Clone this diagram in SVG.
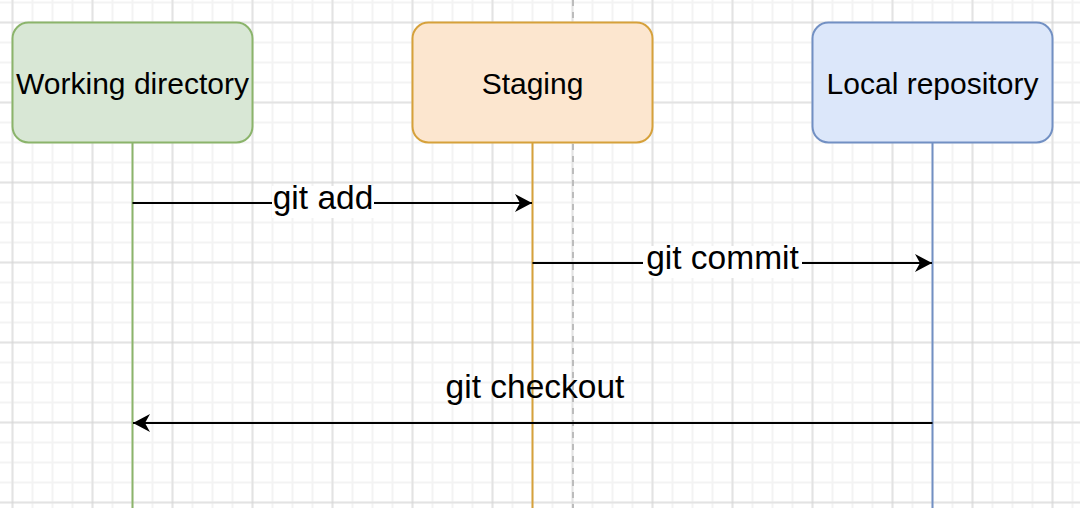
<svg xmlns="http://www.w3.org/2000/svg" width="1080" height="508" viewBox="0 0 1080 508">
<defs>
<pattern id="minor" patternUnits="userSpaceOnUse" x="2.5" y="-7.5" width="20" height="20">
<path d="M10 0 V20 M0 10 H20" stroke="#f3f3f3" stroke-width="2" fill="none"/>
</pattern>
<pattern id="major" patternUnits="userSpaceOnUse" x="-27.5" y="-17.5" width="80" height="80">
<path d="M40 0 V80 M0 40 H80" stroke="#d2d2d2" stroke-width="1" fill="none"/>
</pattern>
<marker id="arrow" viewBox="-18 -10 20 20" refX="0" refY="0" markerWidth="20" markerHeight="20" markerUnits="userSpaceOnUse" orient="auto">
<path d="M0,0 L-17,-9 L-12,0 L-17,9 Z" fill="#000"/>
</marker>
<style>
.node{stroke-width:2}
.nlabel{font-family:"Liberation Sans",Arial,sans-serif;font-size:30px;fill:#000;text-anchor:middle}
.elabel{font-family:"Liberation Sans",Arial,sans-serif;font-size:33.5px;fill:#000;text-anchor:middle}
.life{stroke-width:2;fill:none}
.msg{stroke:#000;stroke-width:2;fill:none;marker-end:url(#arrow)}
</style>
</defs>
<rect width="1080" height="508" fill="#ffffff"/>
<rect width="1080" height="508" fill="url(#minor)"/>
<rect width="1080" height="508" fill="url(#major)"/>
<line x1="573" y1="0" x2="573" y2="508" stroke="#bcbcbc" stroke-width="2" stroke-dasharray="6 6"/>
<g id="lifelines">
<line class="life" x1="132.5" y1="142.5" x2="132.5" y2="508" stroke="#8bb46b"/>
<line class="life" x1="532.5" y1="142.5" x2="532.5" y2="508" stroke="#d6a13b"/>
<line class="life" x1="932.5" y1="142.5" x2="932.5" y2="508" stroke="#7290c3"/>
</g>
<g id="working-directory">
<rect class="node" x="12.5" y="22.5" width="240" height="120" rx="16" fill="#d8e7d5" stroke="#8bb46b"/>
<text class="nlabel" x="132.5" y="93.5">Working directory</text>
</g>
<g id="staging">
<rect class="node" x="412.5" y="22.5" width="240" height="120" rx="16" fill="#fce6cf" stroke="#d6a13b"/>
<text class="nlabel" x="532.5" y="93.5">Staging</text>
</g>
<g id="local-repository">
<rect class="node" x="812.5" y="22.5" width="240" height="120" rx="16" fill="#dce7fa" stroke="#7290c3"/>
<text class="nlabel" x="932.5" y="93.5">Local repository</text>
</g>
<g id="connectors">
<g id="git-add">
<line class="msg" x1="132.5" y1="203" x2="532" y2="203"/>
<rect x="272" y="186" width="102" height="32" fill="#fff"/>
<text class="elabel" x="323" y="208.5">git add</text>
</g>
<g id="git-commit">
<line class="msg" x1="532.5" y1="263" x2="932" y2="263"/>
<rect x="643" y="246" width="159" height="32" fill="#fff"/>
<text class="elabel" x="722.5" y="268.5">git commit</text>
</g>
<g id="git-checkout">
<line class="msg" x1="932.5" y1="423" x2="133" y2="423"/>
<text class="elabel" x="535" y="398">git checkout</text>
</g>
</g>
</svg>
